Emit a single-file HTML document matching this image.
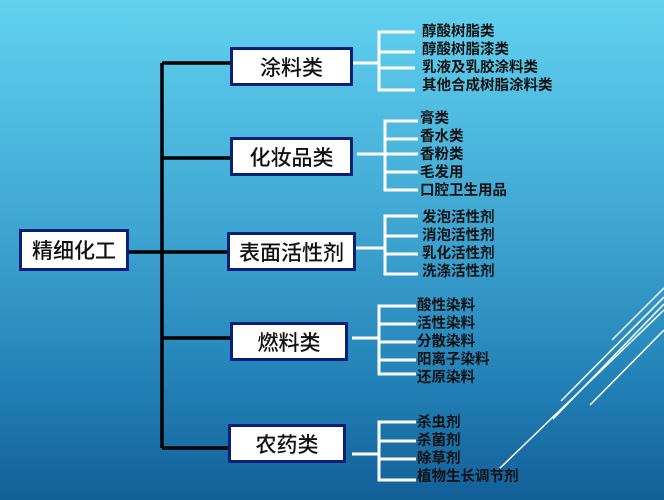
<!DOCTYPE html>
<html><head><meta charset="utf-8"><style>
html,body{margin:0;padding:0}
body{width:664px;height:500px;overflow:hidden;position:relative;background:linear-gradient(180deg,#62d2f0 0%,#3fa6d2 45%,#2383b8 75%,#135f98 100%);font-family:"Liberation Sans","Noto Sans CJK SC",sans-serif}
.box{position:absolute;background:#fff;border:3px solid #0a1f7a;box-sizing:border-box;font-size:21px;font-weight:500;color:#111;display:flex;align-items:center;justify-content:center;font-family:"Liberation Sans","Noto Sans CJK SC",sans-serif}
.t{position:absolute;font-size:14.5px;font-weight:bold;color:#111;line-height:18px;white-space:nowrap}
svg{position:absolute;left:0;top:0}
</style></head><body>
<svg width="664" height="500">
<g stroke="#fff" stroke-width="1.5">
<line x1="664" y1="288" x2="612" y2="340"/>
<line x1="664" y1="297" x2="561" y2="401"/>
<line x1="664" y1="304" x2="553" y2="419"/>
<line x1="664" y1="310" x2="498" y2="470"/>
<line x1="664" y1="330" x2="590" y2="405"/>
</g>
<g stroke="#000" stroke-width="3.5" fill="none">
<line x1="162" y1="63" x2="162" y2="448"/>
<line x1="162" y1="63" x2="232" y2="63"/>
<line x1="162" y1="158" x2="232" y2="158"/>
<line x1="128" y1="252" x2="229" y2="252"/>
<line x1="162" y1="338" x2="232" y2="338"/>
<line x1="162" y1="448" x2="230" y2="448"/>
</g>
<g stroke="#fff" stroke-width="3" fill="none">
<line x1="352" y1="63" x2="379" y2="63"/>
<path d="M415 32H379V90H415M379 52H415M379 68H415"/>
<line x1="357" y1="154" x2="385" y2="154"/>
<path d="M418 121H385V190H418M385 139H418M385 154H418M385 172H418"/>
<line x1="355" y1="248" x2="385" y2="248"/>
<path d="M418 216H385V274H418M385 236H418M385 254H418"/>
<line x1="352" y1="338" x2="379" y2="338"/>
<path d="M416 306H379V374H416M379 324H416M379 342H416M379 360H416"/>
<line x1="352" y1="454" x2="379" y2="454"/>
<path d="M416 422H379V480H416M379 441H416M379 459H416"/>
</g>
</svg>
<div class="box" style="left:19px;top:229px;width:110px;height:42px">精细化工</div>
<div class="box" style="left:230px;top:47px;width:123px;height:39px">涂料类</div>
<div class="box" style="left:230px;top:137px;width:123px;height:39px">化妆品类</div>
<div class="box" style="left:227px;top:232px;width:129px;height:39px">表面活性剂</div>
<div class="box" style="left:230px;top:322px;width:118px;height:39px">燃料类</div>
<div class="box" style="left:228px;top:424px;width:118px;height:39px">农药类</div>
<div class="t" style="left:422px;top:23px">醇酸树脂类<br>醇酸树脂漆类<br>乳液及乳胶涂料类<br>其他合成树脂涂料类</div>
<div class="t" style="left:420px;top:110px">膏类<br>香水类<br>香粉类<br>毛发用<br>口腔卫生用品</div>
<div class="t" style="left:422px;top:209px">发泡活性剂<br>消泡活性剂<br>乳化活性剂<br>洗涤活性剂</div>
<div class="t" style="left:417px;top:297px">酸性染料<br>活性染料<br>分散染料<br>阳离子染料<br>还原染料</div>
<div class="t" style="left:417px;top:414px">杀虫剂<br>杀菌剂<br>除草剂<br>植物生长调节剂</div>
</body></html>
